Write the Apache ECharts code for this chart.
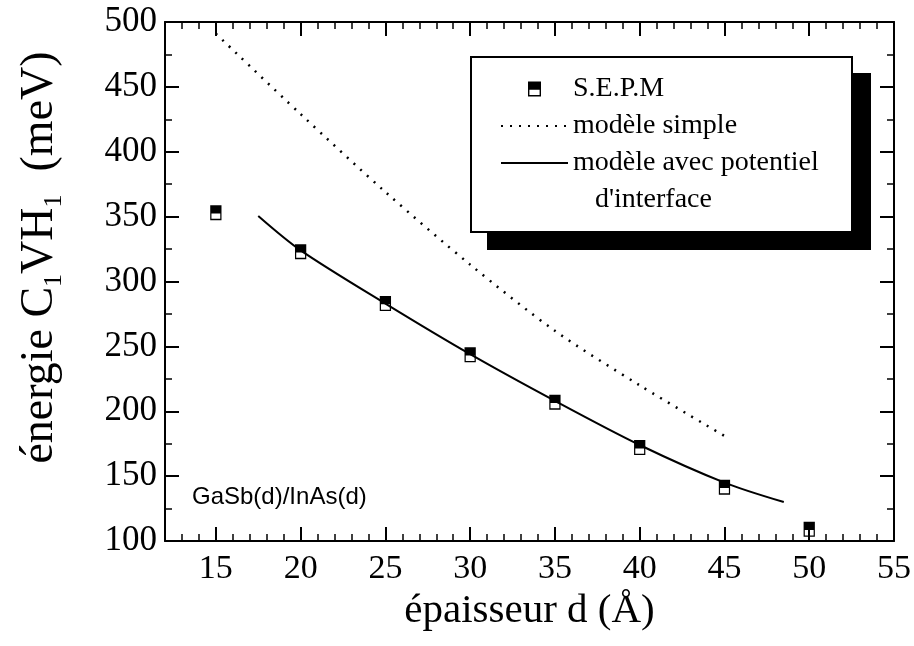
<!DOCTYPE html>
<html>
<head>
    <meta charset="utf-8">
    <title>énergie C1VH1</title>
    <script src="https://cdn.jsdelivr.net/npm/echarts@6/dist/echarts.min.js"></script>
    <style type="text/css">
        * {
            margin: 0;
            padding: 0;
        }

        body {
            background: #fff;
        }
    </style>
</head>
<body>
<div id="main" style="width: 914px;height: 646px;"></div>
<script type="text/javascript">
    // données
    var sepmX = [15, 20, 25, 30, 35, 40, 45, 50];
    var sepmY = [353, 323, 283, 243.5, 207, 172, 141.5, 109];
    var simpleX = [15, 20, 25, 30, 35, 40, 45];
    var simpleY = [491, 429, 369, 313, 262, 220, 181];
    var interX = [17.5, 20, 25, 30, 35, 40, 45, 48.5];
    var interY = [350.5, 324, 283, 244, 208, 174, 145, 130];
    var majorX = [15, 20, 25, 30, 35, 40, 45, 50, 55];

    var serif = 'Liberation Serif';
    // carré à moitié plein (haut noir, bas creux)
    var halfSquare = 'path://M0,0H13V7H0Z M0,7H13V15H0Z M1.4,8.3V13.6H11.6V8.3Z';
    var noSymbol = {color: 'rgba(0,0,0,0)', borderColor: 'rgba(0,0,0,0)', borderWidth: 0};

    function pairs(xs, ys) {
        var out = [];
        for (var i = 0; i < xs.length; i++) {
            out.push([xs[i], ys[i]]);
        }
        return out;
    }

    var myChart = echarts.init(document.getElementById('main'));

    function xAx(pos, major) {
        return {
            type: 'value',
            position: pos,
            min: 12,
            max: 55,
            interval: 1,
            axisLine: {show: major, lineStyle: {color: '#000', width: 2}},
            axisTick: major ? {
                show: true, inside: true, length: 14,
                customValues: majorX,
                lineStyle: {color: '#000', width: 2}
            } : {
                show: true, inside: true, length: 7,
                lineStyle: {color: '#000', width: 1.5}
            },
            axisLabel: {
                show: major && pos == 'bottom',
                customValues: majorX,
                margin: 11,
                fontFamily: serif,
                fontSize: 34,
                color: '#000'
            },
            splitLine: {show: false},
            name: (major && pos == 'bottom') ? 'épaisseur d (Å)' : '',
            nameLocation: 'middle',
            nameGap: 46,
            nameTextStyle: {fontFamily: serif, fontSize: 41, color: '#000'}
        };
    }

    function yAx(pos) {
        return {
            type: 'value',
            position: pos,
            min: 100,
            max: 500,
            interval: 50,
            axisLine: {show: true, lineStyle: {color: '#000', width: 2}},
            axisTick: {show: true, inside: true, length: 14, lineStyle: {color: '#000', width: 2}},
            minorTick: {show: true, splitNumber: 2, length: 7, lineStyle: {color: '#000', width: 1.5}},
            axisLabel: {
                show: pos == 'left',
                margin: 8,
                fontFamily: serif,
                fontSize: 35,
                color: '#000'
            },
            splitLine: {show: false},
            name: pos == 'left' ? '{n|énergie C}{s|1}{n|VH}{s|1}{n|  (meV)}' : '',
            nameLocation: 'middle',
            nameGap: 98,
            nameTextStyle: {
                padding: [0, 0, 0, 48],
                rich: {
                    n: {fontFamily: serif, fontSize: 46, lineHeight: 54, color: '#000'},
                    s: {fontFamily: serif, fontSize: 26, lineHeight: 28, color: '#000', verticalAlign: 'bottom'}
                }
            }
        };
    }

    var option = {
        animation: false,
        backgroundColor: '#fff',
        grid: {
            left: 165,
            right: 18,
            top: 22,
            bottom: 105,
            containLabel: false
        },
        xAxis: [xAx('bottom', true), xAx('bottom', false), xAx('top', true), xAx('top', false)],
        yAxis: [yAx('left'), yAx('right')],
        legend: {
            orient: 'vertical',
            left: 495,
            top: 69,
            itemWidth: 67,
            itemHeight: 15,
            itemGap: 7,
            selectedMode: false,
            z: 10,
            textStyle: {fontFamily: serif, fontSize: 28, lineHeight: 30, color: '#000'},
            data: ['S.E.P.M', 'modèle simple', 'modèle avec potentiel']
        },
        graphic: [
            {type: 'rect', z: 1, shape: {x: 487, y: 73, width: 384, height: 177}, style: {fill: '#000'}},
            {type: 'rect', z: 2, shape: {x: 471, y: 57, width: 381, height: 175}, style: {fill: '#fff', stroke: '#000', lineWidth: 2}},
            {type: 'text', z: 11, left: 595, top: 186, style: {text: "d'interface", font: '28px "Liberation Serif"', fill: '#000'}},
            {type: 'text', z: 11, left: 192, top: 485, style: {text: 'GaSb(d)/InAs(d)', font: '24px "Liberation Sans"', fill: '#000'}}
        ],
        series: [
            {
                name: 'modèle simple',
                type: 'line',
                data: pairs(simpleX, simpleY),
                smooth: 0.3,
                symbol: 'none',
                lineStyle: {color: '#000', width: 2.5, type: [2, 7]},
                itemStyle: noSymbol
            },
            {
                name: 'modèle avec potentiel',
                type: 'line',
                data: pairs(interX, interY),
                smooth: 0.3,
                symbol: 'none',
                lineStyle: {color: '#000', width: 2},
                itemStyle: noSymbol
            },
            {
                name: 'S.E.P.M',
                type: 'scatter',
                data: pairs(sepmX, sepmY),
                symbol: halfSquare,
                symbolSize: [13, 15],
                symbolKeepAspect: true,
                itemStyle: {color: '#000', opacity: 1},
                z: 5
            }
        ]
    };

    myChart.setOption(option);
</script>
</body>
</html>
